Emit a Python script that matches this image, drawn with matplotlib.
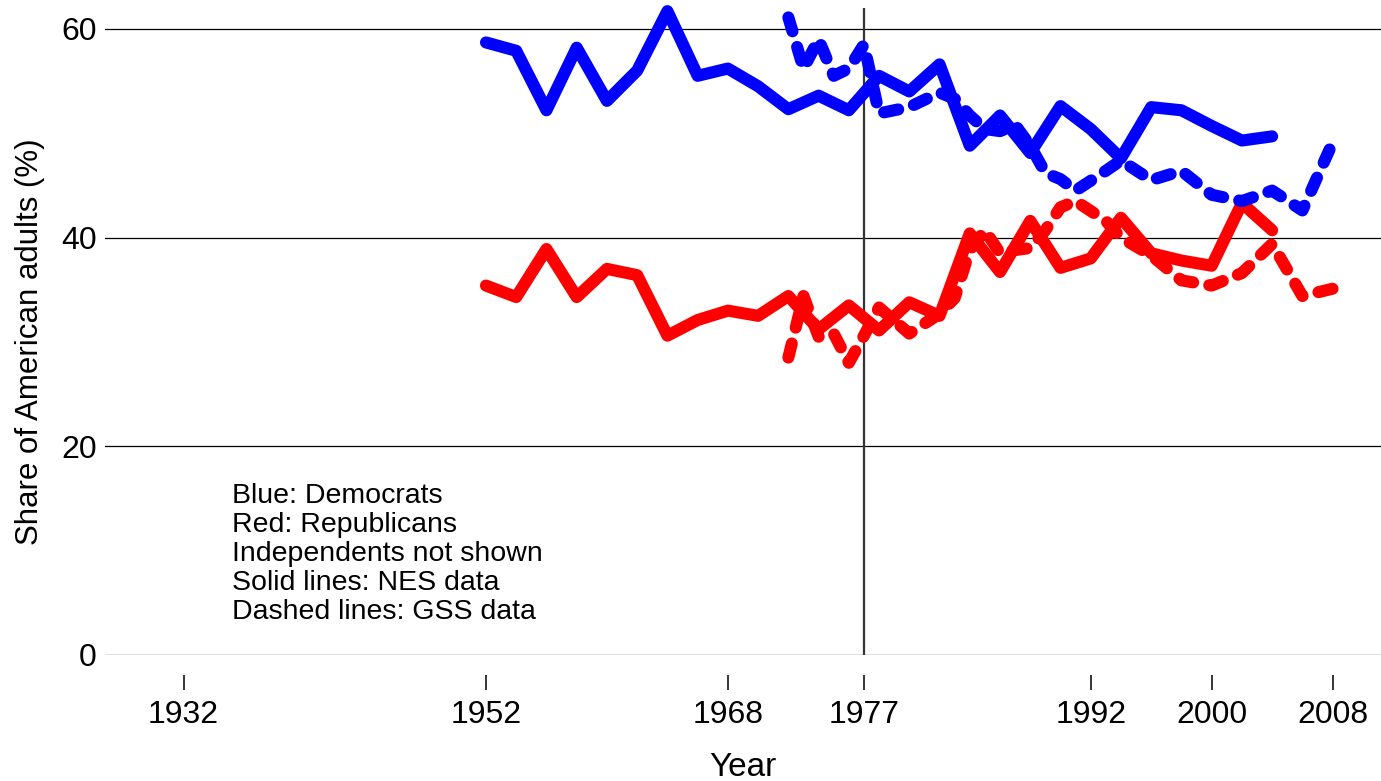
import matplotlib
matplotlib.use("Agg")
import matplotlib.pyplot as plt

plt.rcParams["font.family"] = ["Liberation Sans", "DejaVu Sans"]

# NES (solid lines), every two years
nes_years = list(range(1952, 2005, 2))
nes_dem = [58.7, 57.9, 52.2, 58.2, 53.1, 56.0, 61.7, 55.5, 56.2, 54.5,
           52.3, 53.6, 52.2, 55.5, 54.0, 56.6, 48.8, 51.7, 48.1, 52.6,
           50.4, 47.6, 52.5, 52.2, 50.7, 49.3, 49.7]
nes_rep = [35.4, 34.3, 38.9, 34.3, 37.0, 36.4, 30.6, 32.1, 33.0, 32.5,
           34.4, 31.2, 33.5, 31.1, 33.8, 32.5, 40.4, 36.7, 41.6, 37.1,
           38.0, 41.9, 38.5, 37.8, 37.3, 43.3, 40.7]

# GSS (dashed lines)
gss_years = [1972, 1973, 1974, 1975, 1976, 1977, 1978, 1980, 1982, 1983,
             1984, 1985, 1986, 1987, 1988, 1989, 1990, 1991, 1993, 1994,
             1996, 1998, 2000, 2002, 2004, 2006, 2008]
gss_dem = [61.1, 56.2, 59.0, 55.5, 56.2, 58.5, 51.9, 52.5, 53.9, 53.3,
           51.7, 50.4, 50.2, 50.8, 48.8, 46.2, 45.6, 44.5, 46.4, 47.4,
           45.5, 46.4, 44.1, 43.5, 44.5, 42.6, 49.1]
gss_rep = [28.5, 34.4, 30.5, 30.8, 28.0, 30.6, 33.3, 30.8, 32.7, 34.2,
           38.8, 40.7, 38.5, 38.8, 39.0, 40.7, 42.9, 43.5, 41.6, 40.0,
           38.3, 35.9, 35.4, 36.6, 39.4, 34.4, 35.1]

xticks = [1932, 1952, 1968, 1977, 1992, 2000, 2008]
yticks = [0, 20, 40, 60]
notes = ["Blue: Democrats", "Red: Republicans", "Independents not shown",
         "Solid lines: NES data", "Dashed lines: GSS data"]

fig = plt.figure(figsize=(13.81, 7.81), dpi=100)
ax = fig.add_axes([105 / 1381, 126 / 781, 1276 / 1381, 647 / 781])
ax.set_xlim(1926.8, 2011.2)
ax.set_ylim(0, 62)

for s in ax.spines.values():
    s.set_visible(False)
ax.spines["bottom"].set_position(("outward", 25.2))

ax.set_yticks(yticks)
ax.set_xticks(xticks)
ax.tick_params(axis="y", length=0, pad=6.0, labelsize=23)
ax.tick_params(axis="x", direction="in", length=10.8, width=1.1, pad=7.5,
               labelsize=23)
ax.grid(axis="y", color="black", lw=0.9)
ax.set_axisbelow(True)

ax.plot([1977, 1977], [0, 62], color="#333333", lw=1.6, zorder=1)

lw = 8.7
kw = dict(lw=lw, solid_capstyle="round", solid_joinstyle="round",
          dash_capstyle="round", dash_joinstyle="round", clip_on=False, zorder=3)
ax.plot(nes_years, nes_dem, color="#0000ff", **kw)
ax.plot(nes_years, nes_rep, color="#ff0000", **kw)
ax.plot(gss_years, gss_dem, color="#0000ff", dashes=(1.2, 1.35), **kw)
ax.plot(gss_years, gss_rep, color="#ff0000", dashes=(1.2, 1.35), **kw)

ax.text(1935.2, 16.5, "\n".join(notes), fontsize=20.5, va="top", ha="left",
        linespacing=1.15)

ax.set_xlabel("Year", fontsize=24)
ax.xaxis.set_label_coords(0.5, -0.150)
ax.xaxis.label.set_va("top")
ax.set_ylabel("Share of American adults (%)", fontsize=22.5)
ax.yaxis.set_label_coords(-0.047, 0.485)

fig.savefig("out.png", dpi=100)
